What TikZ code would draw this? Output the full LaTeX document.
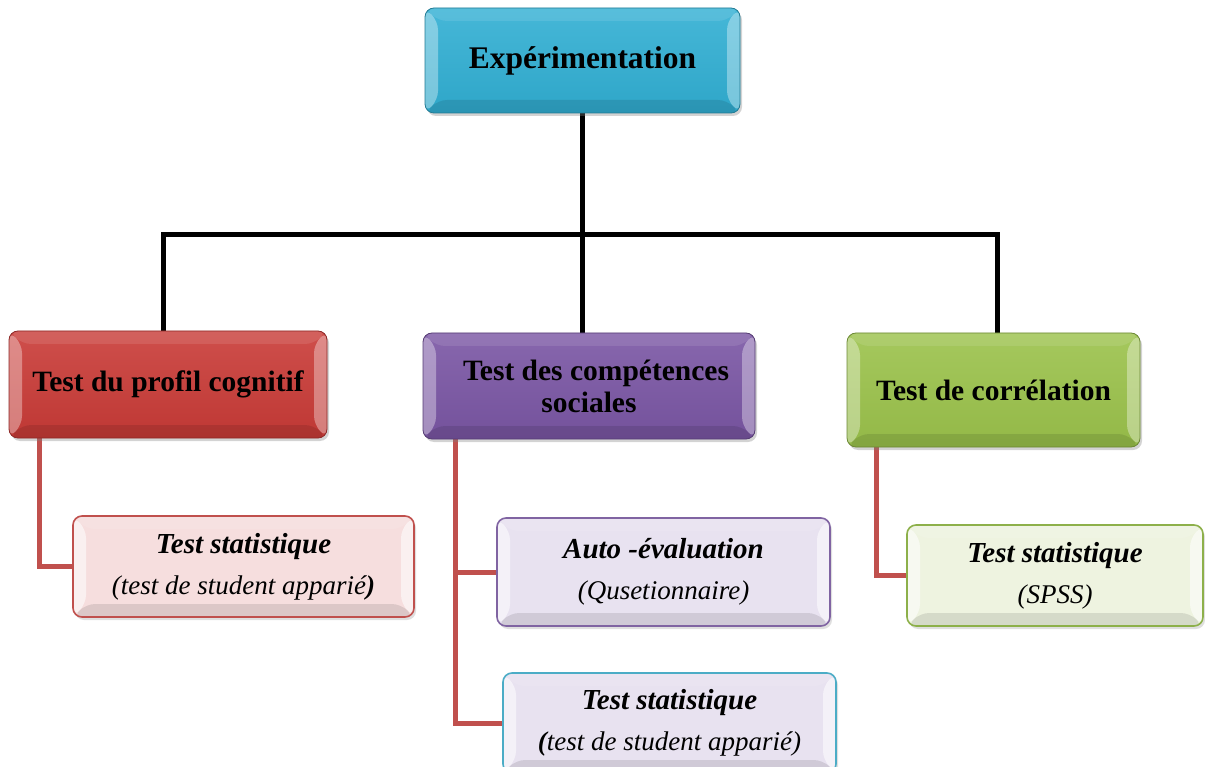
\documentclass[tikz,border=0pt]{standalone}
\usepackage{fontspec}
\setmainfont{Liberation Serif}
\usetikzlibrary{shadows,backgrounds}

\definecolor{topC}{HTML}{31AFD3}
\definecolor{redC}{HTML}{C93B37}
\definecolor{purC}{HTML}{7A56A4}
\definecolor{grnC}{HTML}{9BC24B}
\definecolor{lineRed}{HTML}{C0504D}
\definecolor{pinkF}{HTML}{F6DEDE}
\definecolor{lavF}{HTML}{E8E2F0}
\definecolor{lgrnF}{HTML}{EEF3E0}
\definecolor{purB}{HTML}{8064A2}
\definecolor{cyanB}{HTML}{4BACC6}
\definecolor{grnB}{HTML}{8DB04A}

\tikzset{
  bevel/.style={path picture={
    \path (path picture bounding box.north west) coordinate (pNW)
          (path picture bounding box.north east) coordinate (pNE)
          (path picture bounding box.south west) coordinate (pSW)
          (path picture bounding box.south east) coordinate (pSE);
    \fill[white,opacity=#1] (pNW) -- ([shift={(13,13)}]pNW) -- ([shift={(13,-13)}]pSW) -- (pSW) -- cycle;
    \fill[white,opacity=#1] (pNE) -- ([shift={(-13,13)}]pNE) -- ([shift={(-13,-13)}]pSE) -- (pSE) -- cycle;
    \fill[white,opacity=0.10] (pNW) -- (pNE) -- ([shift={(-13,13)}]pNE) -- ([shift={(13,13)}]pNW) -- cycle;
    \fill[black,opacity=0.10] (pSW) -- (pSE) -- ([shift={(-13,-13)}]pSE) -- ([shift={(13,-13)}]pSW) -- cycle;
  }},
  mainbox/.style={rectangle, rounded corners=9pt, inner sep=0pt, align=center,
    top color=#1!90!white, bottom color=#1!95!black, draw=#1!70!black, line width=0.8pt,
    bevel=0.35, drop shadow={opacity=0.35, shadow xshift=2pt, shadow yshift=-3pt},
    font=\fontsize{29.5}{32}\selectfont\bfseries},
  subbox/.style={rectangle, rounded corners=9pt, inner sep=0pt, align=center,
    fill=#1, line width=1.6pt, bevel=0.55,
    drop shadow={opacity=0.25, shadow xshift=2pt, shadow yshift=-3pt},
    font=\fontsize{27}{41}\selectfont\itshape},
  bus/.style={line width=5pt, black},
  branch/.style={line width=5pt, lineRed},
}
% bold italic heading line inside the small boxes
\newcommand{\boxhead}[1]{{\fontsize{29}{41}\selectfont\bfseries #1}}

\begin{document}
\begin{tikzpicture}[x=1pt,y=-1pt]
\useasboundingbox (0,0) rectangle (1205,767);
\clip (0,0) rectangle (1205,767);

% top level
\node[mainbox=topC, minimum width=315pt, minimum height=105pt,
      font=\fontsize{31.5}{34}\selectfont\bfseries] (top) at (582.5,60.5) {Expérimentation};

% second level
\node[mainbox=redC, minimum width=318pt, minimum height=107pt] (cog) at (168,384.5)
  {Test du profil cognitif};
\node[mainbox=purC, minimum width=332pt, minimum height=106pt] (soc) at (589,386)
  {\hspace*{14pt}Test des compétences\\sociales};
\node[mainbox=grnC, minimum width=293pt, minimum height=114pt] (cor) at (993.5,390)
  {Test de corrélation};

% third level
\node[subbox=pinkF, draw=lineRed, minimum width=341pt, minimum height=101pt] (stat1) at (243.5,566.5)
  {\boxhead{Test statistique}\\(test de student apparié\textbf{)}};
\node[subbox=lavF, draw=purB, minimum width=333pt, minimum height=108pt] (auto) at (663.5,572)
  {\boxhead{Auto -évaluation}\\(Qusetionnaire)};
\node[subbox=lavF, draw=cyanB, minimum width=333pt, minimum height=100pt] (stat2) at (669.5,723)
  {\boxhead{Test statistique}\\\textbf{(}test de student apparié)};
\node[subbox=lgrnF, draw=grnB, minimum width=296pt, minimum height=101pt] (spss) at (1055,575.5)
  {\boxhead{Test statistique}\\(SPSS)};

% connectors
\coordinate (jL) at (163,235);
\coordinate (jR) at (997,235);
\begin{scope}[on background layer]
  \draw[bus] (top.south) -- (top.south |- soc.north);
  \draw[bus] (jL |- cog.north) -- (jL) -- (jR) -- (jR |- cor.north);
  \draw[branch] ([xshift=31pt]cog.south west) |- (stat1.west);
  \draw[branch] ([xshift=33pt]soc.south west) |- (auto.west);
  \draw[branch] ([xshift=33pt]soc.south west) |- (stat2.west);
  \draw[branch] ([xshift=30pt]cor.south west) |- (spss.west);
\end{scope}
\end{tikzpicture}
\end{document}
